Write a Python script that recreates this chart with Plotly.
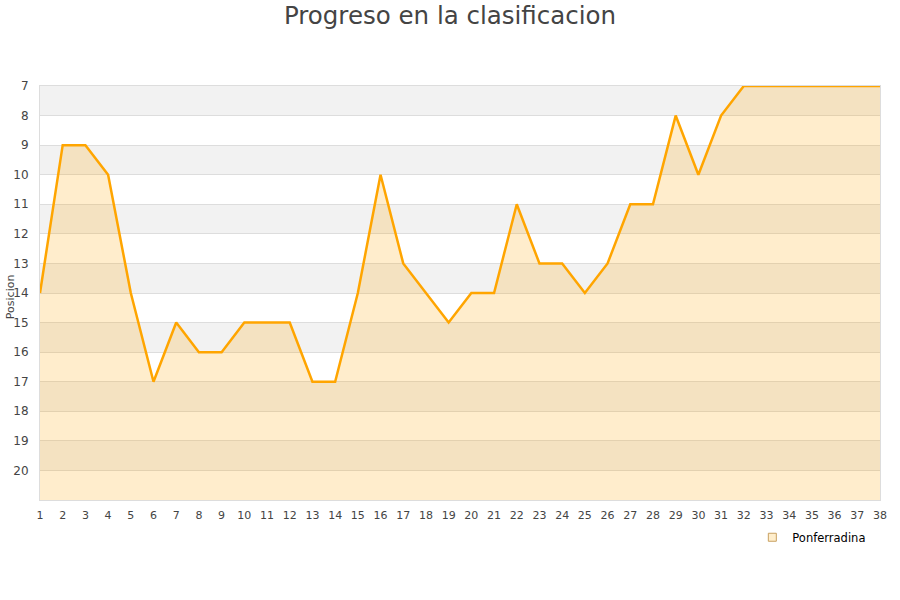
import plotly.graph_objects as go

jornadas = list(range(1, 39))
posiciones = [14, 9, 9, 10, 14, 17, 15, 16, 16, 15, 15, 15, 17, 17, 14, 10, 13, 14, 15, 14,
              14, 11, 13, 13, 14, 13, 11, 11, 8, 10, 8, 7, 7, 7, 7, 7, 7, 7]
equipo = "Ponferradina"
y_ticks = list(range(7, 21))

fig = go.Figure()

# baseline at the bottom of the reversed axis so the fill goes downward
fig.add_trace(go.Scatter(x=jornadas, y=[21] * len(jornadas), mode="lines",
                         line=dict(width=0, color="rgba(0,0,0,0)"),
                         showlegend=False, hoverinfo="skip"))
fig.add_trace(go.Scatter(x=jornadas, y=posiciones, mode="lines", name=equipo,
                         line=dict(color="#ffa500", width=2.5),
                         fill="tonexty", fillcolor="rgba(255,165,0,0.2)",
                         showlegend=False))
# legend entry
fig.add_trace(go.Scatter(x=[None], y=[None], mode="markers", name=equipo,
                         marker=dict(symbol="square", size=8, color="#ffeecc",
                                     line=dict(color="#c8a060", width=1))))

shapes = []
for v in range(7, 21, 2):
    shapes.append(dict(type="rect", xref="paper", yref="y", x0=0, x1=1, y0=v, y1=v + 1,
                       fillcolor="#f2f2f2", line=dict(width=0), layer="below"))

fig.update_layout(
    width=900, height=600,
    margin=dict(l=40, r=20, t=86, b=100, autoexpand=False),
    paper_bgcolor="white", plot_bgcolor="white",
    title=dict(text="Progreso en la clasificacion", x=0.5, xanchor="center", y=0.975,
               yanchor="middle", automargin=False,
               font=dict(family="DejaVu Sans", size=24.5, color="#444444")),
    shapes=shapes,
    annotations=[dict(text="Posicion", xref="paper", yref="paper", x=0, y=0.49,
                      xanchor="center", yanchor="middle", xshift=-30, textangle=-90,
                      showarrow=False, font=dict(size=11, color="#444444"))],
    showlegend=True,
    legend=dict(x=0.848, y=-0.09, xanchor="left", yanchor="middle",
                font=dict(family="DejaVu Sans", size=11.5, color="#000000"),
                bgcolor="rgba(0,0,0,0)", itemwidth=30),
    font=dict(family="DejaVu Sans", size=11, color="#444444"),
)
fig.update_xaxes(range=[1, 38], tickmode="array", tickvals=jornadas,
                 ticktext=[str(j) for j in jornadas], showgrid=False, zeroline=False,
                 showline=True, linecolor="#dddddd", mirror=True, ticks="",
                 automargin=False,
                 ticklabelstandoff=5, tickfont=dict(size=11, color="#444444"))
fig.update_yaxes(range=[21, 7], tickmode="array", tickvals=y_ticks,
                 ticktext=[str(t) for t in y_ticks], showgrid=True, gridcolor="#dddddd",
                 gridwidth=1, zeroline=False, showline=True, linecolor="#dddddd",
                 mirror=True, ticks="", ticklabelstandoff=8, automargin=False,
                 tickfont=dict(size=12, color="#444444"))

fig.write_html("out.html", config={"displayModeBar": False},
               post_script="document.body.style.margin='0';")
